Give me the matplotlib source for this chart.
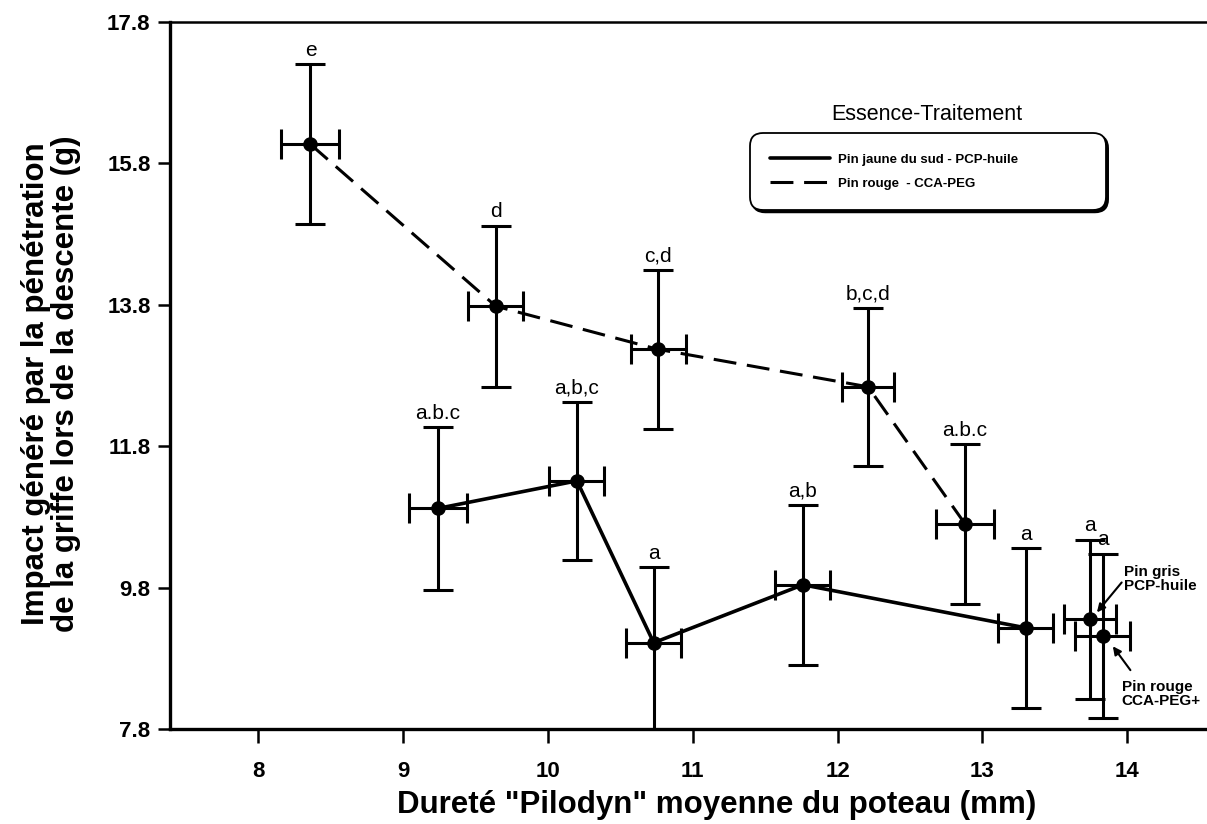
import matplotlib.pyplot as plt

plt.rcParams['font.family'] = ['Liberation Sans', 'DejaVu Sans']

# Pin rouge - CCA-PEG (ligne pointillée)
rouge_x = [8.36, 9.64, 10.76, 12.21, 12.88]
rouge_y = [16.07, 13.78, 13.17, 12.64, 10.70]
rouge_xerr = [0.20, 0.19, 0.19, 0.18, 0.20]
rouge_yerr = [1.13, 1.14, 1.12, 1.12, 1.13]
rouge_lettres = ['e', 'd', 'c,d', 'b,c,d', 'a.b.c']

# Pin jaune du sud - PCP-huile (ligne continue)
jaune_x = [9.24, 10.20, 10.73, 11.76, 13.30]
jaune_y = [10.92, 11.31, 9.02, 9.84, 9.23]
jaune_xerr = [0.20, 0.19, 0.19, 0.19, 0.19]
jaune_yerr_bas = [1.15, 1.12, 1.30, 1.13, 1.13]
jaune_yerr_haut = [1.15, 1.12, 1.07, 1.13, 1.13]
jaune_lettres = ['a.b.c', 'a,b,c', 'a', 'a,b', 'a']

# points isolés
autres_x = [13.74, 13.83]
autres_y = [9.35, 9.12]
autres_xerr = [0.18, 0.19]
autres_yerr = [1.13, 1.16]
autres_lettres = ['a', 'a']
autres_noms = ['Pin gris\nPCP-huile', 'Pin rouge\nCCA-PEG+']

yticks = [7.8, 9.8, 11.8, 13.8, 15.8, 17.8]
xticks = [8, 9, 10, 11, 12, 13, 14]

fig = plt.figure(figsize=(12.07, 8.24), dpi=100)
ax = fig.add_axes([0.1408, 0.1153, 0.8592, 0.858])

eb_style = dict(fmt='o', color='k', ms=9.5, elinewidth=2.2, capsize=11,
                capthick=2.2, zorder=3)

# lignes reliant les moyennes
ax.plot(jaune_x, jaune_y, color='k', lw=2.6, solid_capstyle='round',
        label='Pin jaune du sud - PCP-huile')
ax.plot(rouge_x, rouge_y, color='k', lw=2.2, dashes=(7.5, 3.5),
        label='Pin rouge  - CCA-PEG')

# barres d'erreur
ax.errorbar(rouge_x, rouge_y, xerr=rouge_xerr, yerr=rouge_yerr, **eb_style)
ax.errorbar(jaune_x, jaune_y, xerr=jaune_xerr,
            yerr=[jaune_yerr_bas, jaune_yerr_haut], **eb_style)
ax.errorbar(autres_x, autres_y, xerr=autres_xerr, yerr=autres_yerr, **eb_style)

# lettres de groupement au-dessus des barres
def lettres(xs, ys, hauts, txts):
    for x, y, h, t in zip(xs, ys, hauts, txts):
        ax.annotate(t, (x, y + h), xytext=(0, 6), textcoords='offset points',
                    ha='center', va='baseline', fontsize=15)

lettres(rouge_x, rouge_y, rouge_yerr, rouge_lettres)
lettres(jaune_x, jaune_y, jaune_yerr_haut, jaune_lettres)
lettres(autres_x, autres_y, autres_yerr, autres_lettres)

# étiquettes fléchées des points isolés
ax.annotate(autres_noms[0], (autres_x[0] + 0.05, autres_y[0] + 0.1),
            xytext=(13.98, 9.92), ha='left', va='center', fontsize=11,
            fontweight='bold', linespacing=1.0,
            arrowprops=dict(arrowstyle='-|>', color='k', lw=1.5,
                            mutation_scale=12, shrinkA=0, shrinkB=0,
                            relpos=(0, 0.5)))
ax.annotate(autres_noms[1], (autres_x[1] + 0.07, autres_y[1] - 0.15),
            xytext=(13.96, 8.3), ha='left', va='center', fontsize=11,
            fontweight='bold', linespacing=1.0,
            arrowprops=dict(arrowstyle='-|>', color='k', lw=1.5,
                            mutation_scale=12, shrinkA=6, shrinkB=0,
                            relpos=(0.2, 1.0)))

# axes
ax.set_xlim(7.39, 14.55)
ax.set_ylim(7.8, 17.8)
ax.set_xticks(xticks)
ax.set_xticklabels([str(v) for v in xticks])
ax.set_yticks(yticks)
ax.set_yticklabels(['%.1f' % v for v in yticks])
ax.spines['right'].set_visible(False)
ax.spines['left'].set_linewidth(2.4)
ax.spines['bottom'].set_linewidth(2.4)
ax.spines['top'].set_linewidth(1.8)
ax.tick_params(axis='x', direction='out', length=10, width=1.8, pad=13,
               labelsize=16)
ax.tick_params(axis='y', direction='out', length=9, width=1.8, pad=5,
               labelsize=16)
for lab in ax.get_xticklabels() + ax.get_yticklabels():
    lab.set_fontweight('bold')

ax.set_xlabel('Dureté "Pilodyn" moyenne du poteau (mm)', fontsize=22.5,
              fontweight='bold')
ax.xaxis.set_label_coords(0.5275, -0.086)
ax.set_ylabel('Impact généré par la pénétration\nde la griffe lors de la descente (g)',
              fontsize=22.5, fontweight='bold', linespacing=1.0)
ax.yaxis.set_label_coords(-0.086, 0.488)

# légende
leg = ax.legend(loc='upper left',
                bbox_to_anchor=(750 / 1207, 1 - 141 / 824, 356 / 1207, 8 / 824),
                bbox_transform=fig.transFigure, mode='expand', borderaxespad=0,
                prop={'size': 9.5, 'weight': 'bold'}, handlelength=4.5,
                handletextpad=0.6, labelspacing=0.9, borderpad=1.55,
                fancybox=True, edgecolor='k',
                shadow={'color': 'k', 'alpha': 1, 'ox': 1.5, 'oy': -1.5})
leg.get_frame().set_linewidth(1.3)
leg.get_frame().set_boxstyle('round,pad=0,rounding_size=1.0')
fig.text(927 / 1207, 1 - 115 / 824, 'Essence-Traitement', ha='center',
         va='center', fontsize=15.5)

fig.savefig('out.png', dpi=100)
